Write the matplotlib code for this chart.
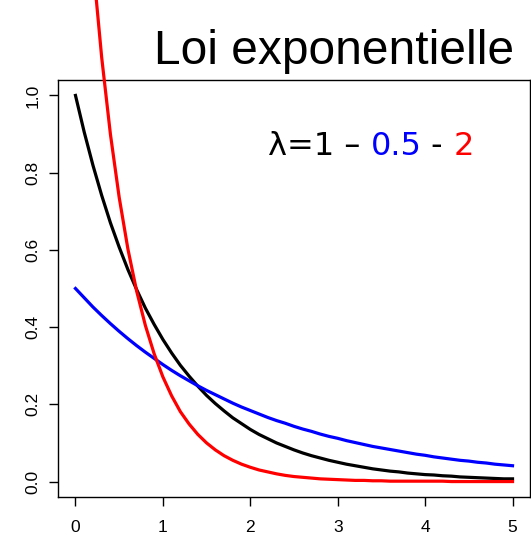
import matplotlib
matplotlib.use("Agg")
import matplotlib.pyplot as plt
from matplotlib.transforms import offset_copy

plt.rcParams['font.family'] = ['Liberation Sans', 'DejaVu Sans']

# Exponential densities, sampled every 0.1 on [0, 5]
x = [round(0.1 * i, 1) for i in range(51)]

dens_l1 = [1.000, 0.905, 0.819, 0.741, 0.670, 0.607, 0.549, 0.497, 0.449, 0.407,
           0.368, 0.333, 0.301, 0.273, 0.247, 0.223, 0.202, 0.183, 0.165, 0.150,
           0.135, 0.122, 0.111, 0.100, 0.091, 0.082, 0.074, 0.067, 0.061, 0.055,
           0.050, 0.045, 0.041, 0.037, 0.033, 0.030, 0.027, 0.025, 0.022, 0.020,
           0.018, 0.017, 0.015, 0.014, 0.012, 0.011, 0.010, 0.009, 0.008, 0.007,
           0.007]

dens_l05 = [0.500, 0.476, 0.452, 0.430, 0.409, 0.389, 0.370, 0.352, 0.335, 0.319,
            0.303, 0.288, 0.274, 0.261, 0.248, 0.236, 0.225, 0.214, 0.203, 0.193,
            0.184, 0.175, 0.166, 0.158, 0.151, 0.143, 0.136, 0.130, 0.123, 0.117,
            0.112, 0.106, 0.101, 0.096, 0.091, 0.087, 0.083, 0.079, 0.075, 0.071,
            0.068, 0.064, 0.061, 0.058, 0.055, 0.053, 0.050, 0.048, 0.045, 0.043,
            0.041]

dens_l2 = [2.000, 1.637, 1.341, 1.098, 0.899, 0.736, 0.602, 0.493, 0.404, 0.331,
           0.271, 0.222, 0.181, 0.149, 0.122, 0.100, 0.082, 0.067, 0.055, 0.045,
           0.037, 0.030, 0.025, 0.020, 0.016, 0.013, 0.011, 0.009, 0.007, 0.006,
           0.005, 0.004, 0.003, 0.003, 0.002, 0.002, 0.001, 0.001, 0.001, 0.001,
           0.001, 0.001, 0.001, 0.000, 0.000, 0.000, 0.000, 0.000, 0.000, 0.000,
           0.000]

x_ticks = [0, 1, 2, 3, 4, 5]
y_ticks = [0.0, 0.2, 0.4, 0.6, 0.8, 1.0]
y_tick_labels = ["0.0", "0.2", "0.4", "0.6", "0.8", "1.0"]

W, H = 531, 540
fig = plt.figure(figsize=(W / 100, H / 100), dpi=100)
ax = fig.add_axes([58 / W, 1 - 497 / H, (530 - 58) / W, (497 - 80) / H])

lw = 2.3
ax.plot(x, dens_l1, color="black", lw=lw, clip_on=False, zorder=3)
ax.plot(x, dens_l05, color="blue", lw=lw, clip_on=False, zorder=3)
ax.plot(x, dens_l2, color="red", lw=lw, clip_on=False, zorder=4)

ax.set_xlim(-0.2, 5.2)
ax.set_ylim(-0.04, 1.04)

for s in ax.spines.values():
    s.set_linewidth(1.0)

ax.set_xticks(x_ticks)
ax.set_xticklabels([str(v) for v in x_ticks])
ax.set_yticks(y_ticks)
ax.set_yticklabels(y_tick_labels, rotation=90, va="center")
ax.tick_params(axis="both", direction="out", length=6.5, width=1.0, labelsize=12.5)
ax.tick_params(axis="x", pad=10)
ax.tick_params(axis="y", pad=6)

# Title
fig.text(334.5 / W, 1 - 64 / H, "Loi exponentielle", fontsize=34.5,
         ha="center", va="baseline")

# Coloured legend text built from consecutive pieces
pieces = [("λ=1 – ", "black"), ("0.5", "blue"), (" - ", "black"), ("2", "red")]
fig.canvas.draw()
renderer = fig.canvas.get_renderer()
x0, y0 = 268 / W, 1 - 155 / H
dx = 0.0
for txt, col in pieces:
    tr = offset_copy(fig.transFigure, fig=fig, x=dx, y=0, units="dots")
    t = fig.text(x0, y0, txt, fontsize=23, color=col, ha="left",
                 va="baseline", transform=tr, family=["DejaVu Sans"])
    bb = t.get_window_extent(renderer=renderer)
    dx += bb.width

fig.savefig("out.png", dpi=100)
